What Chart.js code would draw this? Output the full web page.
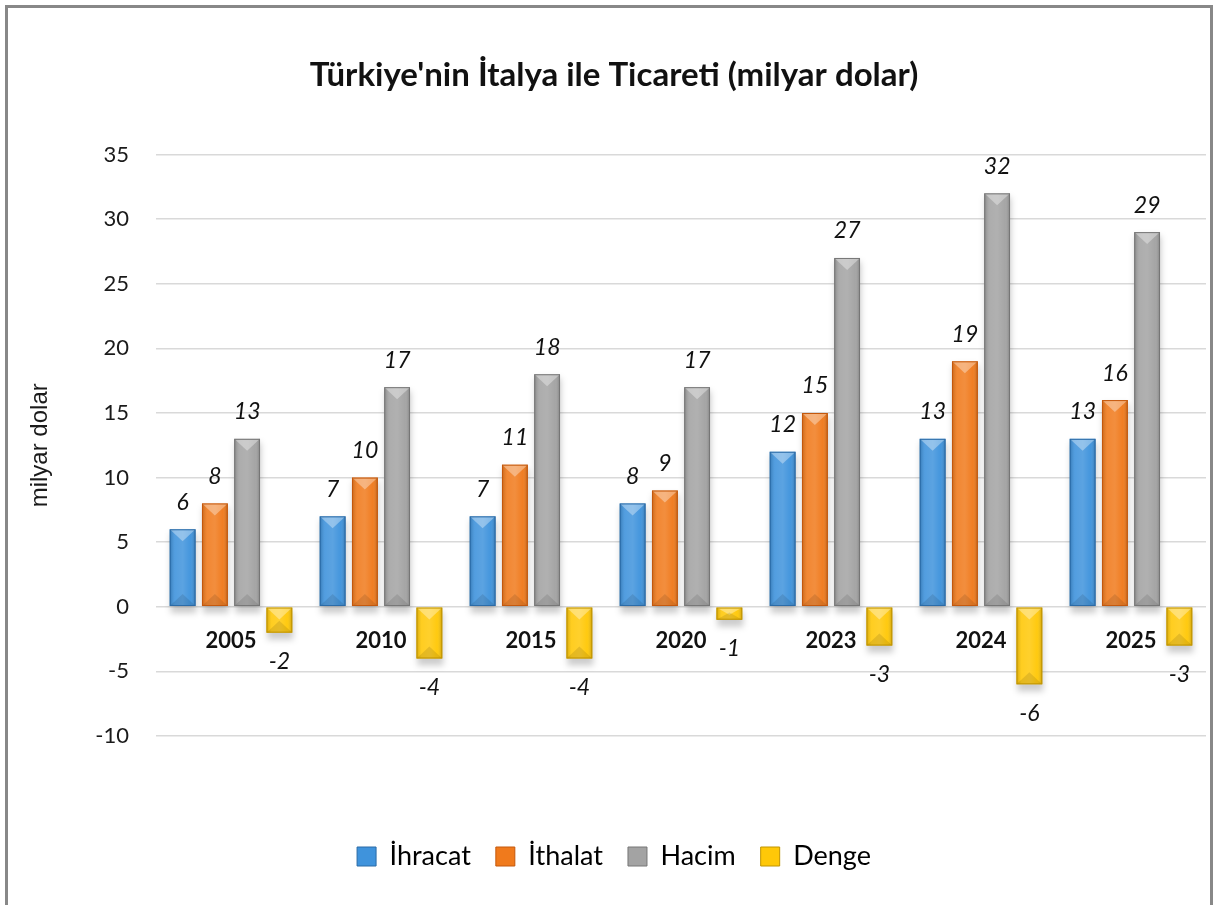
<!DOCTYPE html>
<html><head><meta charset="utf-8">
<script src="https://cdn.jsdelivr.net/npm/chart.js@4.4.1/dist/chart.umd.min.js"></script>
<style>
html,body{margin:0;padding:0;background:#fff;}
#wrap{position:absolute;left:0;top:0;width:1215px;height:905px;}
#frame{position:absolute;left:5px;top:5px;width:1208px;height:905px;border-left:3px solid #888;border-top:3px solid #888;border-right:3px solid #888;box-sizing:border-box;pointer-events:none;}
canvas{position:absolute;left:0;top:0;}
</style></head>
<body>
<div id="wrap"><canvas id="c" width="1215" height="905"></canvas><div id="frame"></div></div>
<script>
const categories = ['2005','2010','2015','2020','2023','2024','2025'];
const ihracat = [6,7,7,8,12,13,13];
const ithalat = [8,10,11,9,15,19,16];
const hacim = [13,17,18,17,27,32,29];
const denge = [-2,-4,-4,-1,-3,-6,-3];
const seriesNames = ['İhracat','İthalat','Hacim','Denge'];
const yTicks = [-10,-5,0,5,10,15,20,25,30,35];

const FONT = 'Lato, "Liberation Sans", sans-serif';
const cols = [
  {main:'#3f93dc', dark:'#2a6aa6'},
  {main:'#f07a1c', dark:'#c4580c'},
  {main:'#a3a3a3', dark:'#767676'},
  {main:'#ffc808', dark:'#c09400'}
];

const bevelPlugin = {
  id:'bevel',
  beforeDatasetsDraw(chart){
    const ctx = chart.ctx;
    chart.data.datasets.forEach((ds,di)=>{
      const meta = chart.getDatasetMeta(di);
      meta.data.forEach(el=>{
        const {x,y,base,width} = el.getProps(['x','y','base','width'],true);
        const top=Math.min(y,base), bot=Math.max(y,base);
        ctx.save();
        ctx.fillStyle='rgba(0,0,0,0.2)';
        ctx.filter='blur(3px)';
        ctx.fillRect(x-width/2+1, top+4, width, bot-top+3);
        ctx.restore();
      });
    });
  },
  afterDatasetsDraw(chart){
    const ctx = chart.ctx;
    chart.data.datasets.forEach((ds,di)=>{
      const meta = chart.getDatasetMeta(di);
      meta.data.forEach(el=>{
        const {x,y,base,width} = el.getProps(['x','y','base','width'],true);
        const l=x-width/2, r=x+width/2;
        const top=Math.min(y,base), bot=Math.max(y,base);
        const h=bot-top;
        ctx.save();
        const g=ctx.createLinearGradient(l,0,r,0);
        g.addColorStop(0,'rgba(0,0,0,0.18)');
        g.addColorStop(0.2,'rgba(255,255,255,0.10)');
        g.addColorStop(0.5,'rgba(255,255,255,0.15)');
        g.addColorStop(0.8,'rgba(255,255,255,0.03)');
        g.addColorStop(1,'rgba(0,0,0,0.22)');
        ctx.fillStyle=g;
        ctx.fillRect(l,top,width,h);
        const b=Math.min(10,h/2);
        ctx.beginPath();
        ctx.moveTo(l,top);ctx.lineTo(r,top);ctx.lineTo(x,top+b*1.2);ctx.closePath();
        ctx.fillStyle='rgba(255,255,255,0.35)';ctx.fill();
        ctx.beginPath();
        ctx.moveTo(l,bot);ctx.lineTo(r,bot);ctx.lineTo(x,bot-b*1.2);ctx.closePath();
        ctx.fillStyle='rgba(0,0,0,0.10)';ctx.fill();
        ctx.strokeStyle=cols[di].dark;ctx.lineWidth=1;
        ctx.strokeRect(l+0.5,top+0.5,width-1,h-1);
        ctx.restore();
      });
    });
  },
  afterDraw(chart){
    const ctx=chart.ctx;
    ctx.save();
    ctx.font='italic 23px '+FONT;
    ctx.fillStyle='#111';
    ctx.textAlign='center';ctx.textBaseline='middle';
    chart.data.datasets.forEach((ds,di)=>{
      const meta=chart.getDatasetMeta(di);
      meta.data.forEach((el,i)=>{
        const v=ds.data[i];
        const {x,y}=el.getProps(['x','y'],true);
        const ly = v>=0 ? y-27 : y+29;
        ctx.fillText(String(v),x,ly);
      });
    });
    const xs=chart.scales.x, ys=chart.scales.y;
    const y0=ys.getPixelForValue(0);
    ctx.font='bold 22px '+FONT;
    categories.forEach((c,i)=>{
      ctx.fillText(c, xs.getPixelForValue(i), y0+34);
    });
    ctx.restore();
  }
};

const datasets=[ihracat,ithalat,hacim,denge].map((d,i)=>({
  label:seriesNames[i],
  data:d,
  backgroundColor:cols[i].main,
  borderWidth:0,
  categoryPercentage:0.86,
  barPercentage:0.8
}));

new Chart(document.getElementById('c'),{
  type:'bar',
  data:{labels:categories,datasets},
  options:{
    responsive:false,animation:false,
    layout:{padding:{left:22,right:9,top:0,bottom:25}},
    plugins:{
      title:{display:true,text:"Türkiye'nin İtalya ile Ticareti (milyar dolar)",
        color:'#111',font:{family:FONT,size:33,weight:'bold'},padding:{top:56,bottom:59}},
      legend:{position:'bottom',
        labels:{color:'#111',font:{family:FONT,size:27},boxWidth:19,boxHeight:19,padding:25,
          generateLabels(chart){
            return chart.data.datasets.map((ds,i)=>({text:ds.label,fillStyle:cols[i].main,strokeStyle:cols[i].dark,lineWidth:1,datasetIndex:i,hidden:false}));
          }}},
      tooltip:{enabled:false}
    },
    scales:{
      x:{grid:{display:false},border:{display:false},ticks:{display:false},
        afterFit(s){s.height=82;}},
      y:{min:-10,max:35,
        afterBuildTicks(s){s.ticks=yTicks.map(v=>({value:v}));},
        grid:{color:'#d9d9d9',lineWidth:1.5,drawTicks:false},
        border:{display:false},
        ticks:{color:'#1a1a1a',font:{family:FONT,size:22},padding:27},
        title:{display:true,text:'milyar dolar',color:'#1a1a1a',font:{family:'"Liberation Sans", Arial, sans-serif',size:24},padding:{top:4,bottom:4}},
        afterFit(s){s.width=134;}
      }
    }
  },
  plugins:[bevelPlugin]
});
</script>
</body></html>
